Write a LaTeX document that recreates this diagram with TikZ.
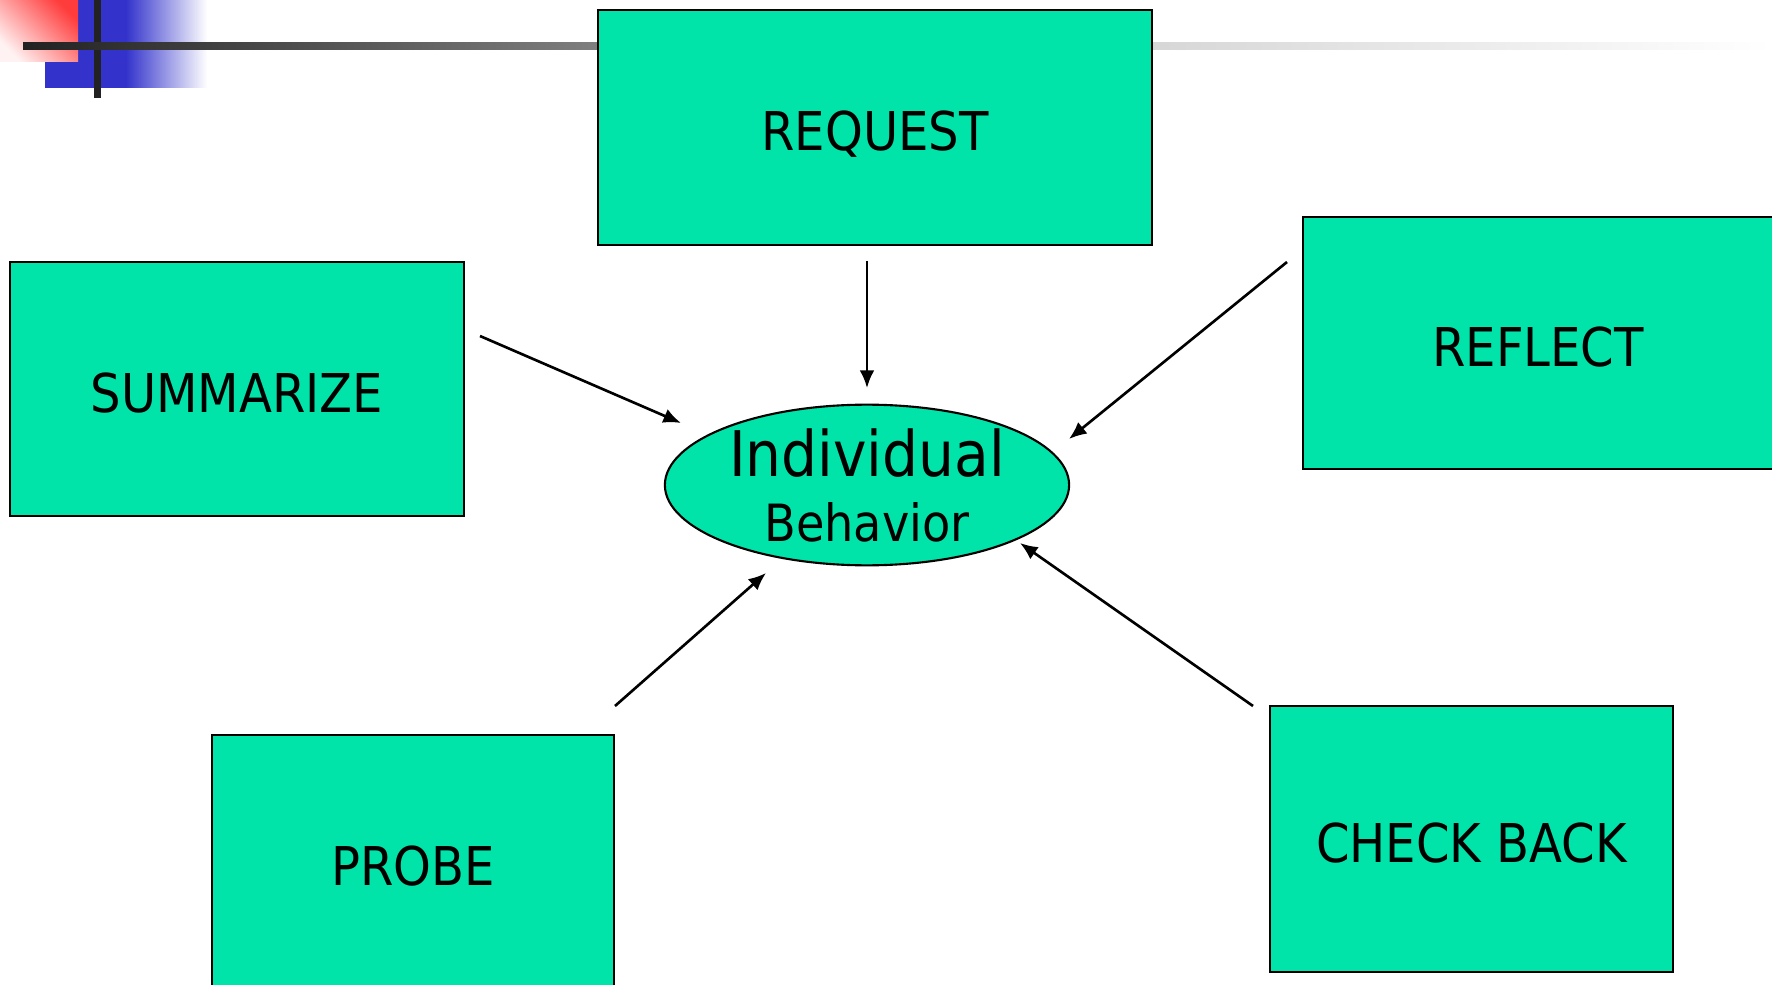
\documentclass[tikz,border=0pt]{standalone}
\usepackage{fontspec}
\setmainfont{DejaVu Sans Condensed}
\usepackage{tikz}
\usetikzlibrary{arrows.meta, shapes.geometric}

\definecolor{boxgreen}{RGB}{0,228,170}
\definecolor{logoblue}{RGB}{51,51,204}
\definecolor{logored}{RGB}{255,60,60}
\definecolor{bardark}{RGB}{34,34,34}

\begin{document}
\begin{tikzpicture}[x=0.01cm, y=-0.01cm,
    box/.style={draw, line width=0.6pt, fill=boxgreen, inner sep=0pt,
      text height=13.1pt, text depth=0pt, font=\fontsize{15.2}{16}\selectfont},
    arr/.style={line width=0.75pt, -{Latex[length=5pt, width=4.2pt]}}]
      \clip (0, 0) rectangle (1772, 985);
      \fill[white] (0, 0) rectangle (1772, 985);
      % corner logo
      \fill[logoblue] (45, 0) rectangle (126, 88);
      \fill[left color=logoblue, right color=white] (126, 0) rectangle (207, 88);
      \fill[top color=logored, bottom color=red!5, shading angle=-45] (0, 0) rectangle (78, 62);
      \fill[bardark] (94, 0) rectangle (101, 98);
      \fill[left color=bardark, right color=black!50] (23, 43) rectangle (600, 50);
      \fill[left color=black!16, right color=white] (1150, 43) rectangle (1772, 50);
      % boxes
      \node[box, minimum width=5.54cm, minimum height=2.35cm] (request) at (875, 127.5) {REQUEST};
      \node[box, minimum width=4.54cm, minimum height=2.54cm] (summarize) at (237, 389) {SUMMARIZE};
      \node[box, minimum width=4.7cm, minimum height=2.52cm] (reflect) at (1538, 343) {REFLECT};
      \node[box, minimum width=4.02cm, minimum height=2.54cm] (probe) at (413, 862) {PROBE};
      \node[box, minimum width=4.03cm, minimum height=2.66cm] (checkback) at (1471.5, 839) {CHECK BACK};
      \node[draw, line width=0.6pt, fill=boxgreen, ellipse, inner sep=0pt,
        minimum width=4.04cm, minimum height=1.59cm, align=center] (behavior) at (867, 485)
        {\fontsize{17.9}{17.9}\selectfont Individual\\[6.5pt]\fontsize{14.6}{17.9}\selectfont Behavior};
      % arrow ends
      \coordinate (s1) at (867, 261);  \coordinate (e1) at (867, 388);
      \coordinate (s2) at (480, 336);  \coordinate (e2) at (681, 423);
      \coordinate (s3) at (1287, 262); \coordinate (e3) at (1069, 439);
      \coordinate (s4) at (615, 706);  \coordinate (e4) at (766, 573);
      \coordinate (s5) at (1253, 706); \coordinate (e5) at (1020, 543);
      \path[arr] (s1) edge (e1);
      \path[arr] (s2) edge (e2);
      \path[arr] (s3) edge (e3);
      \path[arr] (s4) edge (e4);
      \path[arr] (s5) edge (e5);
    \end{tikzpicture}
\end{document}
